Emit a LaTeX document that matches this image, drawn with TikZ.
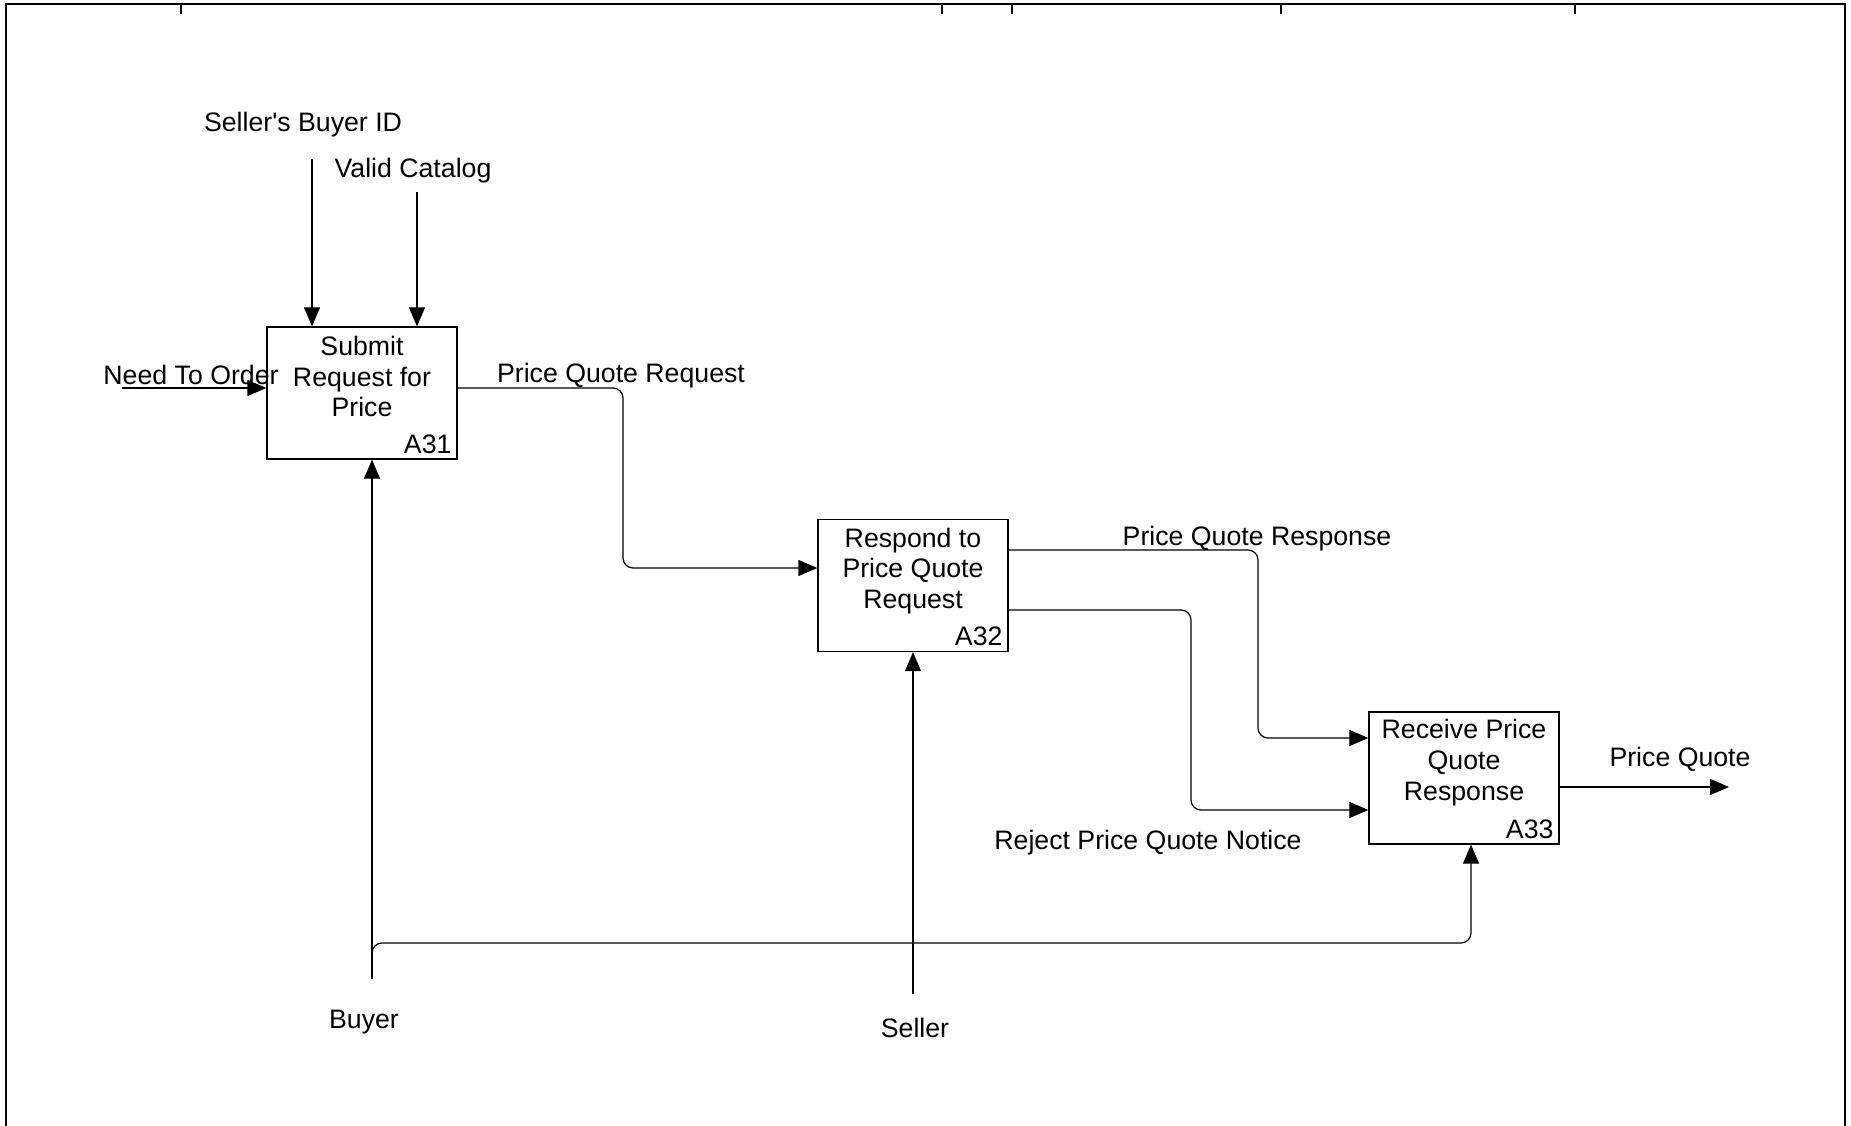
\documentclass[tikz,border=0pt]{standalone}
\usepackage{fontspec}
\setmainfont{Liberation Sans}
\usetikzlibrary{arrows.meta}
\begin{document}
\begin{tikzpicture}[x=1pt,y=-1pt,
  every node/.style={font=\fontsize{26.7}{30.7}\selectfont, inner sep=0pt},
  actbox/.style={draw, line width=1.3pt, minimum width=190pt, minimum height=132pt},
  boxtext/.style={align=center},
  boxid/.style={anchor=base east},
  lbl/.style={anchor=center},
  flow/.style={line width=1.2pt, rounded corners=10pt, -{Triangle[length=19pt,width=16pt]}},
  plain/.style={line width=1.2pt, rounded corners=10pt}
]
\useasboundingbox (0,0) rectangle (1851,1126);
% frame
\draw[line width=2.5pt] (6,1126) -- (6,4) -- (1845,4) -- (1845,1126);
\foreach \tx in {181,942,1012,1281,1575} \draw[line width=1.5pt] (\tx,4) -- (\tx,14);

% activity boxes
\node[actbox] (A31) at (362,393) {};
\node[actbox] (A32) at (913,585.5) {};
\node[actbox] (A33) at (1464,778) {};
\node[boxtext] (t31) at ([yshift=16.5pt]A31.center) {Submit\\Request for\\Price};
\node[boxtext] (t32) at ([yshift=14.5pt]A32.center) {Respond to\\Price Quote\\Request};
\node[boxtext] (t33) at ([yshift=15.5pt]A33.center) {Receive Price\\Quote\\Response};
\node[boxid] (i31) at ([xshift=-6pt,yshift=6pt]A31.south east) {A31};
\node[boxid] (i32) at ([xshift=-6pt,yshift=7pt]A32.south east) {A32};
\node[boxid] (i33) at ([xshift=-6pt,yshift=6pt]A33.south east) {A33};

% labels
\node[lbl] (lSBI) at (303,124.5) {Seller\textquotesingle s Buyer ID};
\node[lbl] (lVC) at (413,170.5) {Valid Catalog};
\node[lbl] (lNTO) at (191,375) {Need To Order};
\node[lbl] (lPQR) at (621,375.5) {Price Quote Request};
\node[lbl] (lPQRs) at (1257,538.5) {Price Quote Response};
\node[lbl] (lRej) at (1148,842.5) {Reject Price Quote Notice};
\node[lbl] (lPQ) at (1680,759.5) {Price Quote};
\node[lbl] (lBuyer) at (364,1022.5) {Buyer};
\node[lbl] (lSeller) at (915,1028) {Seller};

% free ends
\coordinate (cSBI) at (312,159);
\coordinate (cVC) at (417,192);
\coordinate (cNTO) at (122,388);
\coordinate (cPQ) at (1729,787);
\coordinate (cBuyer) at (372,979);
\coordinate (cSeller) at (913,994);

% controls and inputs
\draw[flow] (cSBI) -- (cSBI |- A31.north);
\draw[flow] (cVC) -- (cVC |- A31.north);
\draw[flow] (cNTO) -- (cNTO -| A31.west);

% flows between activities
\draw[flow] (A31.east |- 0,388) -- (623,388) -- (623,568) -- (A32.west |- 0,568);
\draw[flow] (A32.east |- 0,550) -- (1258,550) -- (1258,738) -- (A33.west |- 0,738);
\draw[flow] (A32.east |- 0,610) -- (1191,610) -- (1191,810) -- (A33.west |- 0,810);
\draw[flow] (A33.east |- cPQ) -- (cPQ);

% mechanisms
\draw[flow] (cBuyer) -- (cBuyer |- A31.south);
\draw[flow] (cBuyer) -- (372,943) -- (1471,943) -- (1471,0 |- A33.south);
\draw[flow] (cSeller) -- (cSeller |- A32.south);
\end{tikzpicture}
\end{document}
